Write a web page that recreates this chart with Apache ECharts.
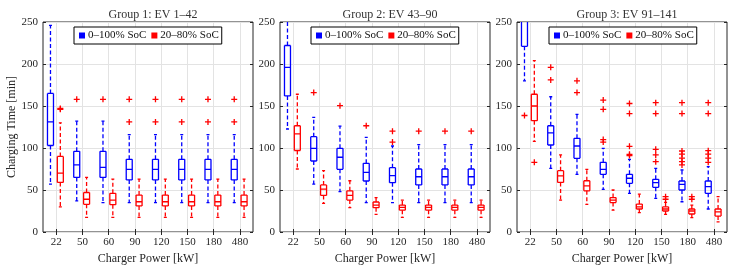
<!DOCTYPE html>
<html>
<head>
<meta charset="utf-8">
<script src="https://cdn.jsdelivr.net/npm/echarts@6/dist/echarts.min.js"></script>
<style>html,body{margin:0;padding:0;background:#fff}#c{width:734px;height:272px}</style>
</head>
<body>
<div id="c"></div>
<script>
// ---------- data ----------
const categories = ['22', '50', '60', '90', '120', '150', '180', '480'];
const panelTitles = ['Group 1: EV 1\u201342', 'Group 2: EV 43\u201390', 'Group 3: EV 91\u2013141'];
const nameFull = '0\u2013100% SoC';
const namePart = '20\u201380% SoC';
const yTicks = [0, 50, 100, 150, 200, 250];

// [min whisker, q1, median, q3, max whisker]
const g1Full = [
  [57, 103, 131, 165, 246], [37, 65, 80, 96, 132], [35, 65, 77, 96, 132],
  [35, 62, 74.5, 86.5, 116], [35, 62, 74.5, 86.5, 116], [35, 62, 74.5, 86.5, 116],
  [35, 62, 74.5, 86.5, 116], [35, 62, 74.5, 86.5, 116]
];
const g1Part = [
  [30, 59, 70, 90, 130], [17.5, 33, 39, 47, 65], [17.5, 32.5, 38, 46, 63],
  [17.5, 31, 36, 44, 63], [17.5, 31, 36, 44, 63], [17.5, 31, 36, 44, 63],
  [17.5, 31, 36, 44, 63], [17.5, 31, 36, 44, 63]
];
// outliers: [category index, value]
const g1FullOut = [[1, 158], [2, 158], [3, 158], [3, 131], [4, 158], [4, 131], [5, 158], [5, 131], [6, 158], [6, 131], [7, 158], [7, 131]];
const g1PartOut = [[0, 146], [0, 147]];

const g2Full = [
  [122.6, 162, 196, 222, 275], [57, 84.5, 99.6, 113.5, 136.5], [48, 74.6, 89, 99.6, 126],
  [35, 60.7, 71, 81.7, 112.7], [35, 58.7, 67, 76.6, 102.4], [35, 56, 65.8, 75, 104],
  [35, 56, 65.8, 75, 104], [35, 56, 65.8, 75, 104]
];
const g2Part = [
  [75, 97, 116.7, 126.5, 164], [34, 43.6, 51, 56, 73], [29, 38, 43.6, 49, 61],
  [21, 29, 32, 35.7, 41], [17.5, 26, 29.4, 32, 38], [17.5, 26, 29.4, 32, 38],
  [17.5, 26, 29.4, 32, 38], [17.5, 26, 29.4, 32, 38]
];
const g2FullOut = [[1, 166], [2, 150.4], [3, 126.5], [4, 120], [4, 107], [5, 120], [6, 120], [7, 120]];
const g2PartOut = [];

const g3Full = [
  [180, 221, 265, 300, 340], [75.8, 103.6, 118, 126.5, 161], [68.7, 87.7, 102.4, 111.5, 140],
  [50.8, 68.7, 74.6, 83, 99.6], [46, 58, 64, 68.7, 86.5], [40, 53.2, 58.7, 62.7, 75.8],
  [36, 50, 56.7, 60.7, 73.8], [27.4, 46, 54, 60.7, 77.8]
];
const g3Part = [
  [108, 132.5, 150, 164, 204], [38, 59, 66.7, 73, 91.7], [33, 49, 55, 61, 74.6],
  [26, 35, 38, 41, 50], [23, 27.4, 30, 33.3, 45], [21, 25, 27.4, 30, 35.3],
  [17, 21.4, 25, 27.4, 32], [12, 19, 24, 27.4, 42]
];
const g3FullOut = [
  [0, 138.7], [1, 196], [1, 181], [2, 180], [2, 166],
  [3, 157], [3, 146], [3, 110], [3, 107],
  [4, 153], [4, 141], [4, 102], [4, 92.5], [4, 91],
  [5, 154], [5, 141], [5, 98.4], [5, 91.7], [5, 83.7],
  [6, 154], [6, 141], [6, 96.4], [6, 92.8], [6, 88], [6, 83.7], [6, 79.8],
  [7, 154], [7, 141], [7, 96.8], [7, 92.8], [7, 88], [7, 83]
];
const g3PartOut = [[0, 83], [5, 42], [5, 39], [6, 42], [6, 39]];

// ---------- style / layout ----------
const FONT = 'Liberation Serif';
const AX = '#262626';
const BLUE = '#0000ff';
const RED = '#ff0000';
const GRIDLINE = '#e3e3e3';
const panelLeft = [43, 280, 517];
const panelW = 210, panelTop = 22, panelH = 210;
const legendLeft = [74, 311, 549];
const OFF_FULL = -0.215, OFF_PART = 0.16;
const LW = 1.3;

const panels = [
  {full: g1Full, part: g1Part, fullOut: g1FullOut, partOut: g1PartOut},
  {full: g2Full, part: g2Part, fullOut: g2FullOut, partOut: g2PartOut},
  {full: g3Full, part: g3Part, fullOut: g3FullOut, partOut: g3PartOut}
];

function pathOf(segs) {
  return segs.filter(s => s).map(s => 'M' + s[0] + ' ' + s[1] + 'L' + s[2] + ' ' + s[3]).join('');
}

function boxSeries(name, rows, g, offset, color) {
  return {
    type: 'custom', name: name, xAxisIndex: 2 * g, yAxisIndex: 2 * g, clip: false,
    silent: true, emphasis: {disabled: true}, z: 5,
    itemStyle: {color: color},
    encode: {x: 0, y: [1, 2, 3, 4, 5]},
    data: rows.map((r, i) => [i].concat(r)),
    renderItem: function (params, api) {
      const i = api.value(0);
      const bw = api.size([1, 0])[0];
      const cx = api.coord([i, 0])[0] + offset * bw;
      const yTop = api.coord([i, 250])[1];
      const raw = k => api.coord([i, api.value(k)])[1];
      const Y = k => Math.max(raw(k), yTop);
      const inside = k => raw(k) >= yTop;
      const yMin = Y(1), yQ1 = Y(2), yMed = Y(3), yQ3 = Y(4), yMax = Y(5);
      const hw = 3, cw = 1.5;
      const solidPath = pathOf([
        inside(5) ? [cx - cw, yMax, cx + cw, yMax] : null,
        [cx - cw, yMin, cx + cw, yMin],
        inside(4) ? [cx - hw, yQ3, cx + hw, yQ3] : null,
        [cx - hw, yQ1, cx + hw, yQ1],
        [cx - hw, yQ3, cx - hw, yQ1], [cx + hw, yQ3, cx + hw, yQ1],
        inside(3) ? [cx - hw, yMed, cx + hw, yMed] : null
      ]);
      const dashPath = pathOf([yMax < yQ3 ? [cx, yQ3, cx, yMax] : null, [cx, yQ1, cx, yMin]]);
      const children = [
        {type: 'path', shape: {pathData: solidPath}, style: {stroke: color, fill: null, lineWidth: LW}}
      ];
      if (dashPath) children.push({type: 'path', shape: {pathData: dashPath}, style: {stroke: color, fill: null, lineWidth: LW, lineDash: [4, 2.5]}});
      return {type: 'group', children: children};
    }
  };
}

function outlierSeries(rows, g, offset) {
  return {
    type: 'custom', name: 'outliers', xAxisIndex: 2 * g, yAxisIndex: 2 * g, clip: false,
    silent: true, emphasis: {disabled: true}, z: 6,
    itemStyle: {color: RED},
    encode: {x: 0, y: 1},
    data: rows,
    renderItem: function (params, api) {
      const i = api.value(0);
      const bw = api.size([1, 0])[0];
      const p = api.coord([i, api.value(1)]);
      const cx = p[0] + offset * bw;
      const cy = p[1];
      const s = 3;
      return {
        type: 'path',
        shape: {pathData: pathOf([[cx - s, cy, cx + s, cy], [cx, cy - s, cx, cy + s]])},
        style: {stroke: RED, fill: null, lineWidth: LW}
      };
    }
  };
}

const grids = [], xAxes = [], yAxes = [], titles = [], legends = [], series = [];
panels.forEach((p, g) => {
  grids.push({left: panelLeft[g], top: panelTop, width: panelW, height: panelH,
    show: true, borderColor: AX, borderWidth: 1, backgroundColor: '#fff'});
  xAxes.push({
    type: 'category', gridIndex: g, data: categories, position: 'bottom',
    axisLine: {show: false},
    axisTick: {show: true, inside: true, length: 3, alignWithLabel: true, lineStyle: {color: AX}},
    axisLabel: {color: AX, fontFamily: FONT, fontSize: 11, margin: 5},
    splitLine: {show: true, alignWithLabel: true, lineStyle: {color: GRIDLINE, width: 1}},
    name: 'Charger Power [kW]', nameLocation: 'middle', nameGap: 20,
    nameTextStyle: {color: AX, fontFamily: FONT, fontSize: 12}
  });
  xAxes.push({
    type: 'category', gridIndex: g, data: categories, position: 'top',
    axisLine: {show: false},
    axisTick: {show: true, inside: true, length: 3, alignWithLabel: true, lineStyle: {color: AX}},
    axisLabel: {show: false}, splitLine: {show: false}
  });
  const yBase = {
    type: 'value', gridIndex: g, min: 0, max: 250, interval: 50,
    axisLine: {show: false},
    axisTick: {show: true, inside: true, length: 3, lineStyle: {color: AX}}
  };
  yAxes.push(Object.assign({}, yBase, {
    position: 'left',
    axisLabel: {color: AX, fontFamily: FONT, fontSize: 11, margin: 5,
      formatter: v => (yTicks.indexOf(v) >= 0 ? String(v) : '')},
    splitLine: {show: true, lineStyle: {color: GRIDLINE, width: 1}},
    name: g === 0 ? 'Charging Time [min]' : '', nameLocation: 'middle', nameGap: 24,
    nameTextStyle: {color: AX, fontFamily: FONT, fontSize: 12}
  }));
  yAxes.push(Object.assign({}, yBase, {
    position: 'right', axisLabel: {show: false}, splitLine: {show: false}
  }));
  series.push(boxSeries(nameFull, p.full, g, OFF_FULL, BLUE));
  series.push(boxSeries(namePart, p.part, g, OFF_PART, RED));
  series.push(outlierSeries(p.fullOut, g, OFF_FULL));
  series.push(outlierSeries(p.partOut, g, OFF_PART));
  titles.push({
    text: panelTitles[g], left: panelLeft[g] + panelW / 2, top: 4, textAlign: 'center',
    textStyle: {fontFamily: FONT, fontSize: 12, fontWeight: 'normal', color: '#333'}
  });
  legends.push({
    left: legendLeft[g], top: 27, orient: 'horizontal',
    data: [nameFull, namePart], selectedMode: false,
    icon: 'rect', itemWidth: 6, itemHeight: 6, itemGap: 5,
    padding: [3, 3, 3, 5],
    borderColor: '#000', borderWidth: 1, backgroundColor: '#fff',
    textStyle: {fontFamily: FONT, fontSize: 11, color: '#111', padding: [0, 0, 0, -2]}
  });
});

const chart = echarts.init(document.getElementById('c'), null, {renderer: 'canvas'});
chart.setOption({
  animation: false,
  backgroundColor: '#fff',
  title: titles,
  legend: legends,
  grid: grids,
  xAxis: xAxes,
  yAxis: yAxes,
  series: series
});
</script>
</body>
</html>
